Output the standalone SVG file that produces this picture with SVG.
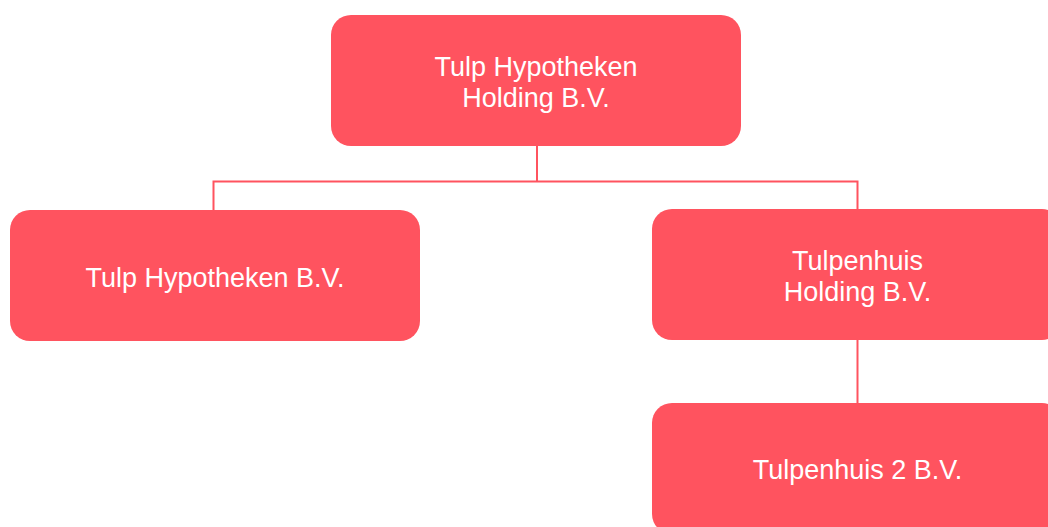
<svg xmlns="http://www.w3.org/2000/svg" width="1048" height="527" viewBox="0 0 1048 527">
<style>
.box{fill:#FF535F;}
.lbl{font-family:"Liberation Sans",Arial,sans-serif;font-size:27px;fill:#FFFFFF;text-anchor:middle;}
.conn{stroke:#FF535F;stroke-width:2;fill:none;}
</style>
<rect width="1048" height="527" fill="#FFFFFF"/>
<g id="connectors">
<path class="conn" d="M537,146 V181.5 M213.5,181.5 H857.5 M213.5,180.5 V210 M857.5,180.5 V209"/>
<path class="conn" d="M857.5,340 V403"/>
</g>
<g id="node-top">
<rect class="box" x="331" y="15" width="410" height="131" rx="20"/>
<text class="lbl" x="536" y="76">Tulp Hypotheken</text>
<text class="lbl" x="536" y="107">Holding B.V.</text>
</g>
<g id="node-left">
<rect class="box" x="10" y="210" width="410" height="131" rx="20"/>
<text class="lbl" x="215" y="287">Tulp Hypotheken B.V.</text>
</g>
<g id="node-right">
<rect class="box" x="652" y="209" width="410" height="131" rx="20"/>
<text class="lbl" x="857.5" y="270">Tulpenhuis</text>
<text class="lbl" x="857.5" y="301">Holding B.V.</text>
</g>
<g id="node-bottom">
<rect class="box" x="652" y="403" width="410" height="131" rx="20"/>
<text class="lbl" x="857.5" y="479">Tulpenhuis 2 B.V.</text>
</g>
</svg>
